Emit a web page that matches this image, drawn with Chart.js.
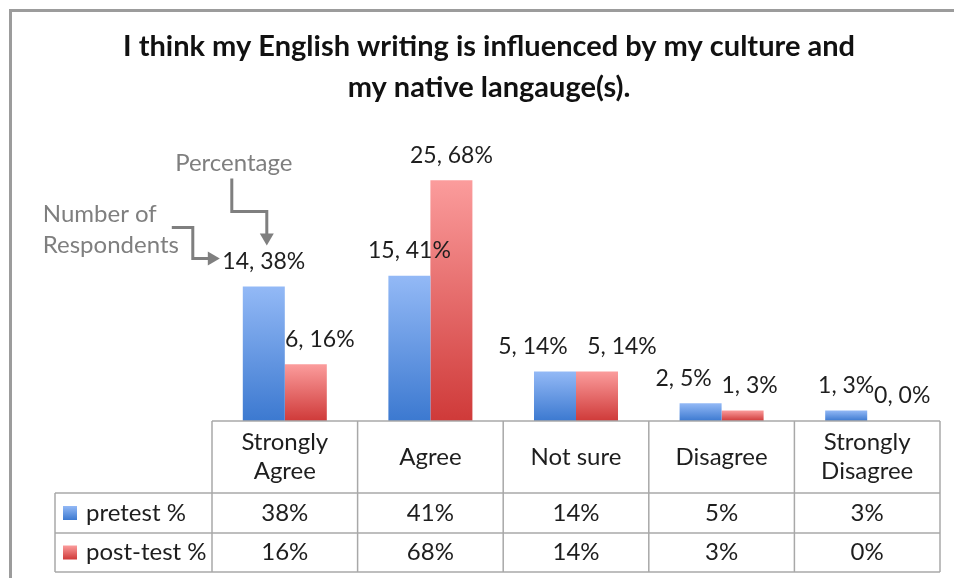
<!DOCTYPE html>
<html>
<head>
<meta charset="utf-8">
<script src="https://cdn.jsdelivr.net/npm/chart.js@4.4.1/dist/chart.umd.min.js"></script>
<style>
  html, body { margin: 0; padding: 0; background: #fff; }
  #wrap { width: 954px; height: 578px; position: relative; }
</style>
</head>
<body>
<div id="wrap"><canvas id="chart"></canvas></div>
<script>
const categories = [['Strongly', 'Agree'], ['Agree'], ['Not sure'], ['Disagree'], ['Strongly', 'Disagree']];
const seriesNames = ['pretest %', 'post-test %'];
const pretestCount = [14, 15, 5, 2, 1];
const pretestPct = [38, 41, 14, 5, 3];
const posttestCount = [6, 25, 5, 1, 0];
const posttestPct = [16, 68, 14, 3, 0];

const FONT = 'Lato, "Open Sans", sans-serif';
const INK = '#1e1e1e';
const GRID = '#a8a8a8';
const NOTE = '#7f7f7f';

// vertical gradient per bar: light at the top, deeper at the base
function barFill(top, bottom) {
  return (ctx) => {
    const y = ctx.chart.scales.y;
    if (!y || ctx.type !== 'data') return bottom;
    const y0 = y.getPixelForValue(ctx.raw);
    const y1 = y.getPixelForValue(0);
    if (!Number.isFinite(y0) || !Number.isFinite(y1) || y1 - y0 < 1) return bottom;
    const g = ctx.chart.ctx.createLinearGradient(0, y0, 0, y1);
    g.addColorStop(0, top);
    g.addColorStop(1, bottom);
    return g;
  };
}

const palette = [
  { top: '#93b9f6', bottom: '#3c79d0' },
  { top: '#fb9c9c', bottom: '#cf3a39' },
];

const counts = [pretestCount, posttestCount];

// outer frame
const framePlugin = {
  id: 'frame',
  beforeDraw(chart) {
    const c = chart.ctx;
    c.save();
    c.strokeStyle = '#9c9c9c';
    c.lineWidth = 3;
    c.strokeRect(10.5, 10.5, 1200, 1200);
    c.restore();
  }
};

// "n, p%" labels above each bar, nudged sideways where neighbours crowd
const barLabels = {
  id: 'barLabels',
  afterDatasetsDraw(chart, args, opts) {
    const c = chart.ctx;
    c.save();
    c.font = '23px ' + FONT;
    c.fillStyle = INK;
    c.textAlign = 'center';
    c.textBaseline = 'middle';
    chart.data.datasets.forEach((ds, di) => {
      chart.getDatasetMeta(di).data.forEach((bar, i) => {
        const dx = opts.shift[i][di];
        c.fillText(counts[di][i] + ', ' + ds.data[i] + '%', bar.x + dx, bar.y - 25);
      });
    });
    c.restore();
  }
};

// callouts explaining the label format, hung off the first pretest bar
const callouts = {
  id: 'callouts',
  afterDatasetsDraw(chart) {
    const bar = chart.getDatasetMeta(0).data[0];
    if (!bar) return;
    const ax = bar.x, ay = bar.y - 25;
    const c = chart.ctx;
    c.save();
    c.font = '24px ' + FONT;
    c.fillStyle = NOTE;
    c.textBaseline = 'middle';
    c.textAlign = 'center';
    c.fillText('Percentage', ax - 30, ay - 98);
    c.textAlign = 'left';
    c.fillText('Number of', ax - 221, ay - 47);
    c.fillText('Respondents', ax - 221, ay - 16);

    c.strokeStyle = NOTE;
    c.lineWidth = 3;
    c.lineJoin = 'miter';
    const path = (pts) => {
      c.beginPath();
      c.moveTo(ax + pts[0][0], ay + pts[0][1]);
      pts.slice(1).forEach(p => c.lineTo(ax + p[0], ay + p[1]));
      c.stroke();
    };
    path([[-32, -83], [-32, -50], [3, -50], [3, -27]]);
    path([[-92, -34], [-71, -34], [-71, -3], [-55, -3]]);
    c.beginPath();
    c.moveTo(ax + 3, ay - 16);
    c.lineTo(ax - 4, ay - 28);
    c.lineTo(ax + 10, ay - 28);
    c.closePath();
    c.fill();
    c.beginPath();
    c.moveTo(ax - 44, ay - 3);
    c.lineTo(ax - 56, ay - 10);
    c.lineTo(ax - 56, ay + 4);
    c.closePath();
    c.fill();
    c.restore();
  }
};

// data table under the plot, columns taken from the category scale
const dataTable = {
  id: 'dataTable',
  afterDraw(chart) {
    const c = chart.ctx;
    const area = chart.chartArea;
    const xs = chart.scales.x;
    const n = categories.length;
    const w = (area.right - area.left) / n;
    const top = area.bottom;
    const r1 = top + 72, r2 = r1 + 40, r3 = r2 + 39;
    const legendLeft = 55;

    c.save();
    c.strokeStyle = GRID;
    c.lineWidth = 1.5;
    const line = (x1, y1, x2, y2) => {
      c.beginPath(); c.moveTo(x1, y1); c.lineTo(x2, y2); c.stroke();
    };
    line(area.left, top, area.right, top);
    [r1, r2, r3].forEach(y => line(legendLeft, y, area.right, y));
    line(legendLeft, r1, legendLeft, r3);
    for (let i = 0; i <= n; i++) line(area.left + i * w, top, area.left + i * w, r3);

    c.font = '24px ' + FONT;
    c.fillStyle = INK;
    c.textAlign = 'center';
    c.textBaseline = 'middle';
    categories.forEach((lab, i) => {
      const cx = xs.getPixelForValue(i);
      const mid = (top + r1) / 2;
      if (lab.length === 1) c.fillText(lab[0], cx, mid);
      else {
        c.fillText(lab[0], cx, mid - 14.5);
        c.fillText(lab[1], cx, mid + 14.5);
      }
      c.fillText(pretestPct[i] + '%', cx, (r1 + r2) / 2);
      c.fillText(posttestPct[i] + '%', cx, (r2 + r3) / 2);
    });

    [[r1, r2], [r2, r3]].forEach(([a, b], di) => {
      const my = (a + b) / 2;
      const g = c.createLinearGradient(0, my - 7, 0, my + 7);
      g.addColorStop(0, palette[di].top);
      g.addColorStop(1, palette[di].bottom);
      c.fillStyle = g;
      c.fillRect(63, my - 7, 14, 14);
      c.fillStyle = INK;
      c.textAlign = 'left';
      c.fillText(seriesNames[di], 86, my);
    });
    c.restore();
  }
};

new Chart(document.getElementById('chart'), {
  type: 'bar',
  data: {
    labels: categories.map(l => l.join(' ')),
    datasets: [
      { label: seriesNames[0], data: pretestPct, backgroundColor: barFill(palette[0].top, palette[0].bottom) },
      { label: seriesNames[1], data: posttestPct, backgroundColor: barFill(palette[1].top, palette[1].bottom) },
    ],
  },
  options: {
    responsive: true,
    maintainAspectRatio: false,
    animation: false,
    events: [],
    datasets: { bar: { categoryPercentage: 0.577, barPercentage: 1.0, borderWidth: 0 } },
    layout: { padding: { left: 38, right: 14, top: 0, bottom: 157 } },
    scales: {
      x: { display: false },
      // invisible value axis; its width keeps room for the table's legend column
      y: {
        min: 0, max: 80,
        grid: { display: false },
        border: { display: false },
        ticks: { display: false },
        afterFit(scale) { scale.width = 174; },
      },
    },
    plugins: {
      legend: { display: false },
      tooltip: { enabled: false },
      title: {
        display: true,
        text: ['I think my English writing is influenced by my culture and', 'my native langauge(s).'],
        color: '#111',
        font: { family: FONT, size: 29, weight: 'bold', lineHeight: 1.41 },
        padding: { top: 26.5, bottom: 29.5 },
      },
      barLabels: { shift: [[0, 14], [0, 0], [-22, 25], [-17, 7], [0, 14]] },
    },
  },
  plugins: [framePlugin, barLabels, callouts, dataTable],
});
</script>
</body>
</html>
